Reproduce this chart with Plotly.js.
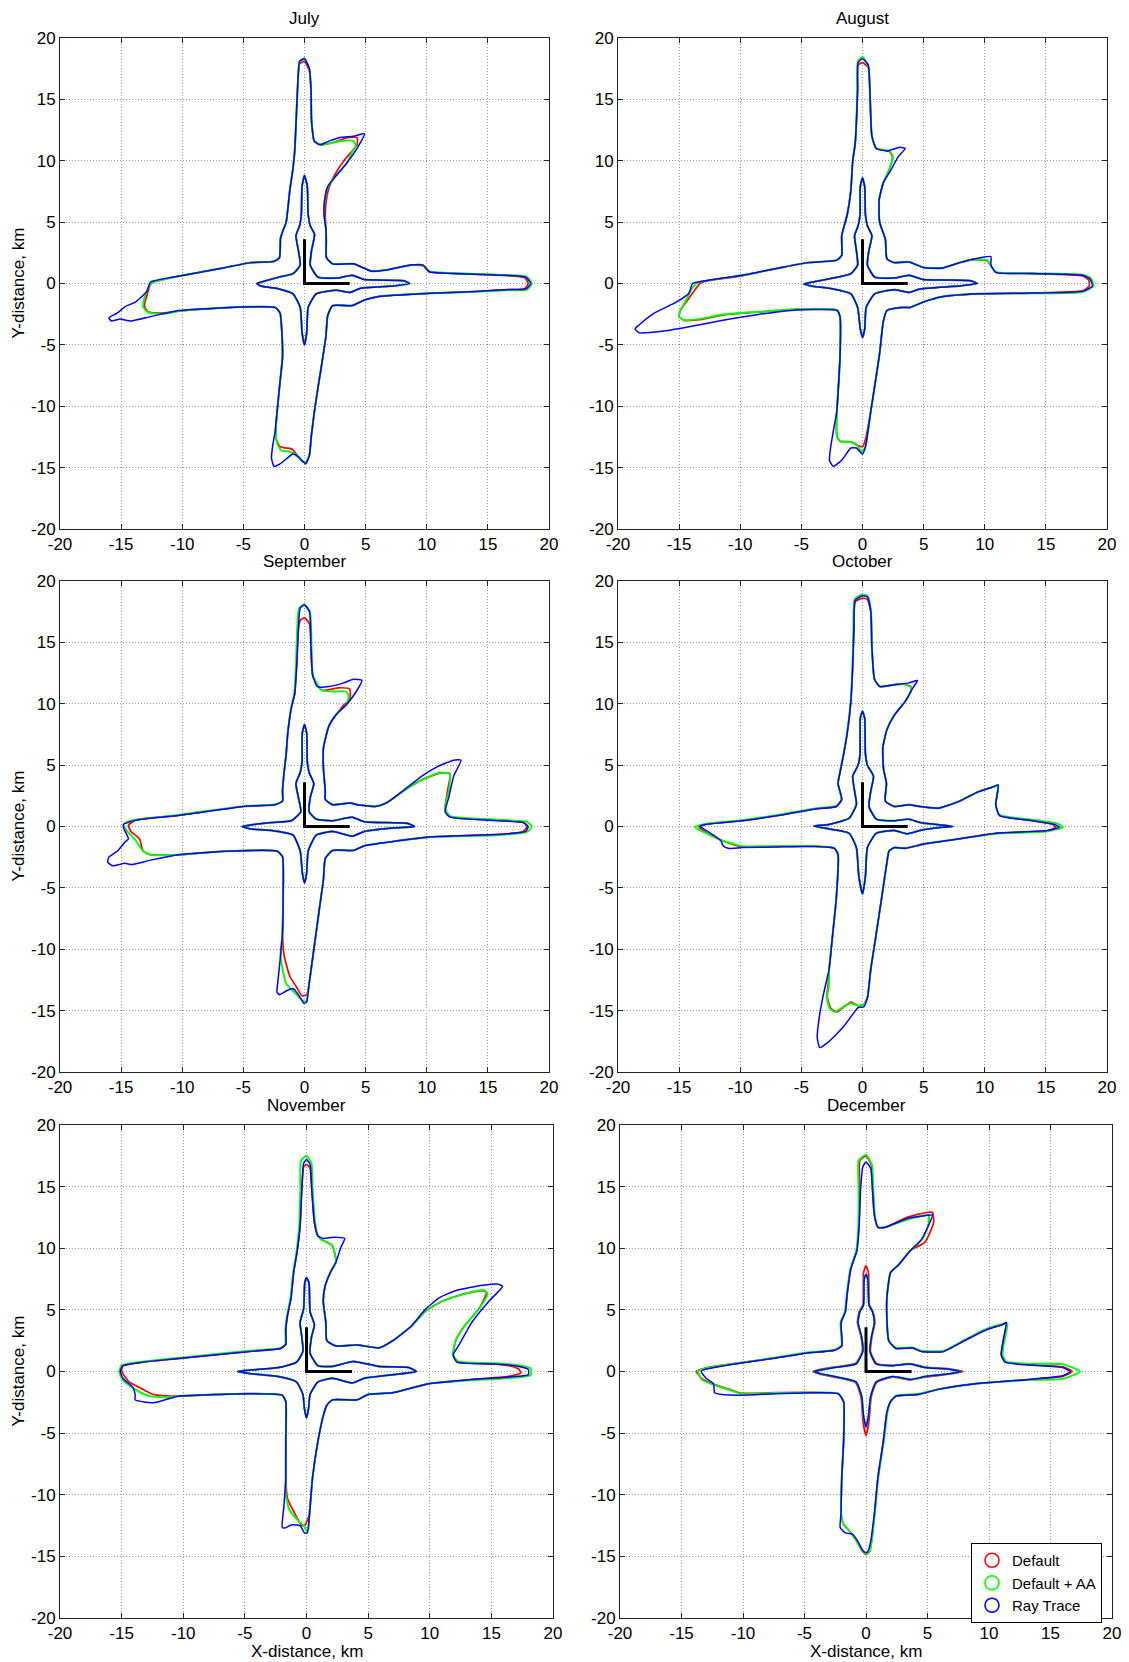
<!DOCTYPE html>
<html><head><meta charset="utf-8">
<script src="https://cdn.plot.ly/plotly-3.0.1.min.js"></script>
<style>html,body{margin:0;padding:0;background:#fff}#chart{width:1129px;height:1662px}</style>
</head><body><div id="chart"></div>
<script>
const months = ['July','August','September','October','November','December'];
const seriesNames = ['Default','Default + AA','Ray Trace'];
const seriesColors = ['#ff0000','#00ff00','#0000ff'];
const tickVals = [-20,-15,-10,-5,0,5,10,15,20];
const tickText = ['-20','-15','-10','-5','0','5','10','15','20'];
const siteX = [0,0,3.7];
const siteY = [3.6,0,0];

// ---------- July ----------
const julRT = [[0,18.3],[-0.4,18.1],[-0.5,17.2],[-0.64,14.3],[-0.8,10.8],[-0.94,9.4],[-1.2,7.6],[-1.5,5.0],[-1.8,4.2],[-1.96,3.7],[-2.05,2.1],[-2.5,1.8],[-4.4,1.7],[-7,1.2],[-10.3,0.6],[-12.6,0.1],[-12.9,-0.64],[-13.8,-1.5],[-14.7,-1.9],[-15.3,-2.4],[-16,-2.8],[-15.8,-3.05],[-15.1,-2.9],[-14.2,-3.05],[-12.6,-2.7],[-10.3,-2.2],[-7,-2.0],[-4.4,-1.9],[-2.4,-1.95],[-2.0,-2.4],[-1.85,-4],[-1.8,-6],[-2.0,-8],[-2.2,-10],[-2.4,-12],[-2.6,-13.2],[-2.7,-14.2],[-2.5,-14.9],[-2.0,-14.7],[-1.5,-14.3],[-0.95,-13.9],[-0.5,-14.1],[0.1,-14.7],[0.4,-14],[0.55,-12.5],[0.8,-10.5],[1.1,-8.5],[1.5,-6],[1.75,-4.3],[1.9,-2.6],[2.3,-1.8],[3.9,-1.8],[4.9,-1.35],[6.1,-1.05],[10.2,-0.8],[14,-0.65],[16.5,-0.5],[18.1,-0.45],[18.5,0],[18.1,0.52],[16,0.68],[12,0.82],[10.2,0.96],[9.7,1.5],[8.7,1.5],[6.7,1.1],[5.5,1.0],[4.0,1.6],[2.3,1.6],[1.8,2.1],[1.78,3.5],[1.75,4.45],[1.6,5.6],[1.65,6.8],[1.9,7.9],[2.6,8.8],[3.45,9.8],[4.3,11.0],[4.9,12.2],[4.0,12.0],[2.9,11.9],[2.0,11.6],[1.26,11.3],[0.8,11.6],[0.58,13.2],[0.53,15.8],[0.4,17.5],[0,18.3]];
const julAA = [[0,18.35],[-0.4,18.1],[-0.5,17.2],[-0.64,14.3],[-0.8,10.8],[-0.94,9.4],[-1.2,7.6],[-1.5,5.0],[-1.8,4.2],[-1.96,3.7],[-2.05,2.1],[-2.5,1.8],[-4.4,1.7],[-7,1.2],[-10.3,0.6],[-12.5,0.05],[-12.8,-0.4],[-13.1,-1.2],[-13.2,-1.9],[-12.8,-2.35],[-12,-2.45],[-11,-2.4],[-10.3,-2.25],[-7,-2.0],[-4.4,-1.9],[-2.4,-1.95],[-2.0,-2.4],[-1.85,-4],[-1.8,-6],[-2.0,-8],[-2.2,-10],[-2.35,-12],[-2.25,-13.0],[-1.9,-13.6],[-1.2,-13.7],[-0.8,-13.9],[-0.3,-14.4],[0.1,-14.6],[0.4,-14],[0.55,-12.5],[0.8,-10.5],[1.1,-8.5],[1.5,-6],[1.75,-4.3],[1.9,-2.6],[2.3,-1.8],[3.9,-1.8],[4.9,-1.35],[6.1,-1.05],[10.2,-0.8],[14,-0.67],[16.5,-0.55],[18.2,-0.5],[18.6,0],[18.2,0.55],[16,0.72],[12,0.85],[10.2,0.98],[9.7,1.5],[8.7,1.5],[6.7,1.1],[5.5,1.0],[4.0,1.6],[2.3,1.6],[1.8,2.1],[1.78,3.5],[1.75,4.45],[1.6,5.6],[1.65,6.8],[1.9,7.9],[2.6,8.8],[3.45,9.8],[3.9,10.7],[4.2,11.2],[4.0,11.6],[3.3,11.65],[2.4,11.5],[1.4,11.3],[0.8,11.6],[0.58,13.2],[0.53,15.8],[0.4,17.5],[0,18.35]];
const julDF = [[0,18.1],[-0.4,17.9],[-0.5,17.2],[-0.64,14.3],[-0.8,10.8],[-0.94,9.4],[-1.2,7.6],[-1.5,5.0],[-1.8,4.2],[-1.96,3.7],[-2.05,2.1],[-2.5,1.8],[-4.4,1.7],[-7,1.2],[-10.3,0.6],[-12.5,0.05],[-12.7,-0.3],[-12.9,-1.0],[-13.1,-1.8],[-12.8,-2.3],[-12,-2.4],[-11,-2.35],[-10.3,-2.25],[-7,-2.0],[-4.4,-1.9],[-2.4,-1.95],[-2.0,-2.4],[-1.85,-4],[-1.8,-6],[-2.0,-8],[-2.2,-10],[-2.35,-12],[-2.3,-12.7],[-2.0,-13.3],[-1.5,-13.4],[-1.0,-13.5],[-0.6,-14.0],[-0.2,-14.5],[0.1,-14.55],[0.4,-14],[0.55,-12.5],[0.8,-10.5],[1.1,-8.5],[1.5,-6],[1.75,-4.3],[1.9,-2.6],[2.3,-1.8],[3.9,-1.8],[4.9,-1.35],[6.1,-1.05],[10.2,-0.8],[14,-0.65],[16.5,-0.5],[18.0,-0.42],[18.3,0],[18.0,0.48],[16,0.68],[12,0.82],[10.2,0.96],[9.7,1.45],[8.7,1.5],[6.7,1.1],[5.5,1.0],[4.0,1.6],[2.3,1.6],[1.8,2.1],[1.78,3.5],[1.75,4.45],[1.7,5.5],[1.75,6.5],[2.0,7.8],[2.5,8.9],[3.3,10.1],[3.9,10.8],[4.3,11.3],[4.3,11.9],[3.6,11.9],[2.4,11.5],[1.4,11.3],[0.8,11.6],[0.58,13.2],[0.53,15.8],[0.4,17.3],[0,18.1]];
const julIn = [[0,8.8],[-0.2,7.9],[-0.26,5.6],[-0.4,4.7],[-0.7,3.9],[-0.5,2.7],[-0.35,1.5],[-0.94,0.8],[-2.1,0.52],[-3.6,0.1],[-3.9,0],[-3.6,-0.2],[-2.1,-0.44],[-0.94,-0.84],[-0.35,-1.95],[-0.2,-4.0],[0,-5.0],[0.18,-4.0],[0.3,-1.95],[0.96,-0.84],[2.6,-0.55],[3.7,-0.73],[4.6,-0.38],[7.25,-0.2],[8.6,0],[8.1,0.23],[4.9,0.32],[3.9,0.67],[2.7,0.44],[1.1,0.52],[0.47,1.5],[0.58,2.7],[0.82,4.0],[0.47,4.7],[0.3,5.6],[0.23,7.9],[0,8.8]];

// ---------- August ----------
const augRT = [[0,18.3],[-0.36,18.0],[-0.4,15.8],[-0.6,11.4],[-0.8,10],[-0.95,7.6],[-1.25,5.6],[-1.7,3.9],[-1.7,2.3],[-2.1,1.9],[-4.5,1.7],[-6.9,1.25],[-9.85,0.67],[-12.8,0.23],[-13.9,0],[-14.2,-0.8],[-15.2,-1.5],[-17,-2.4],[-18.3,-3.4],[-18.6,-3.7],[-18.3,-4.0],[-16.4,-3.9],[-14.3,-3.55],[-11.3,-2.97],[-8.4,-2.5],[-5.4,-2.15],[-2.1,-2.2],[-1.84,-2.7],[-1.84,-6.0],[-2.0,-8.9],[-2.1,-10.4],[-2.4,-12.1],[-2.6,-13.3],[-2.7,-14.4],[-2.4,-14.9],[-1.7,-14.4],[-0.95,-13.4],[-0.5,-13.4],[0,-13.9],[0.24,-13.3],[0.68,-10.4],[1.13,-7.5],[1.4,-5.7],[1.7,-3.1],[2.0,-2.2],[3.2,-1.95],[3.9,-1.95],[5.0,-1.5],[6.5,-1.08],[9.4,-0.84],[13.9,-0.78],[18,-0.64],[18.8,-0.2],[18.6,0.38],[18,0.67],[13.9,0.81],[10.9,0.9],[10.5,1.54],[10.5,2.2],[9.1,2.0],[7.95,1.7],[6.5,1.25],[5.0,1.3],[3.8,1.75],[2.6,1.7],[2.0,2.0],[1.87,3.6],[1.4,5.0],[1.36,6.8],[1.7,8.2],[2.3,9.2],[2.9,10.3],[3.5,11.0],[3.05,11.1],[2.0,10.8],[1.13,11.0],[0.77,12],[0.6,15.8],[0.47,17.8],[0,18.3]];
const augAA = [[0,18.45],[-0.38,18.1],[-0.42,15.8],[-0.6,11.4],[-0.8,10],[-0.95,7.6],[-1.25,5.6],[-1.7,3.9],[-1.7,2.3],[-2.1,1.9],[-4.5,1.7],[-6.9,1.25],[-9.85,0.67],[-12.8,0.23],[-13.6,0.0],[-14.0,-0.5],[-14.3,-1.1],[-14.9,-2.2],[-15.0,-2.7],[-14.6,-2.97],[-13.4,-2.9],[-11.3,-2.5],[-8.4,-2.3],[-5.4,-2.1],[-2.1,-2.15],[-1.84,-2.7],[-1.84,-6.0],[-2.0,-8.9],[-2.1,-10.4],[-2.1,-12.4],[-1.84,-12.85],[-0.95,-12.9],[-0.5,-13.1],[-0.06,-13.7],[0.24,-13.3],[0.68,-10.4],[1.13,-7.5],[1.4,-5.7],[1.7,-3.1],[2.0,-2.2],[3.2,-1.95],[3.9,-1.95],[5.0,-1.5],[6.5,-1.08],[9.4,-0.84],[13.9,-0.8],[18,-0.7],[18.9,-0.2],[18.7,0.4],[18,0.72],[13.9,0.84],[10.9,0.95],[10.4,1.6],[10.2,1.9],[9.1,1.95],[7.95,1.7],[6.5,1.25],[5.0,1.3],[3.8,1.75],[2.6,1.7],[2.0,2.0],[1.87,3.6],[1.4,5.0],[1.36,6.8],[1.7,8.2],[2.2,9.3],[2.5,10.3],[2.2,10.8],[1.13,11.0],[0.77,12],[0.6,15.8],[0.47,17.8],[0,18.45]];
const augDF = [[0,18.0],[-0.36,17.8],[-0.4,15.8],[-0.6,11.4],[-0.8,10],[-0.95,7.6],[-1.25,5.6],[-1.7,3.9],[-1.7,2.3],[-2.1,1.9],[-4.5,1.7],[-6.9,1.25],[-9.85,0.62],[-12.8,0.2],[-13.3,0.0],[-13.7,-0.5],[-14.2,-1.2],[-14.9,-2.2],[-15.0,-2.7],[-14.6,-3.0],[-13.4,-2.95],[-11.3,-2.55],[-8.4,-2.32],[-5.4,-2.1],[-2.1,-2.15],[-1.84,-2.7],[-1.84,-6.0],[-2.0,-8.9],[-2.1,-10.4],[-2.1,-12.4],[-1.84,-12.85],[-0.95,-12.9],[-0.36,-13.2],[0,-13.3],[0.24,-12.7],[0.68,-10.4],[1.13,-7.5],[1.4,-5.7],[1.7,-3.1],[2.0,-2.2],[3.2,-1.95],[3.9,-1.95],[5.0,-1.5],[6.5,-1.08],[9.4,-0.84],[13.9,-0.78],[18,-0.6],[18.55,-0.2],[18.5,0.3],[18,0.62],[13.9,0.81],[10.9,0.92],[10.4,1.6],[10.2,1.85],[9.1,1.95],[7.95,1.7],[6.5,1.25],[5.0,1.3],[3.8,1.75],[2.6,1.7],[2.0,2.0],[1.87,3.6],[1.4,5.0],[1.36,6.8],[1.7,8.2],[2.2,9.3],[2.45,10.3],[2.2,10.75],[1.13,11.0],[0.77,12],[0.6,15.8],[0.47,17.6],[0,18.0]];
const augIn = [[0,8.6],[-0.18,7.9],[-0.2,5.6],[-0.36,4.7],[-0.65,3.9],[-0.5,2.7],[-0.4,1.5],[-0.95,0.8],[-2.4,0.44],[-4.2,0.1],[-4.8,-0.05],[-4.2,-0.2],[-2.4,-0.44],[-0.95,-0.84],[-0.4,-1.95],[-0.18,-3.7],[0,-4.4],[0.18,-3.7],[0.3,-1.95],[1,-0.84],[2.6,-0.5],[3.8,-0.73],[4.7,-0.44],[7.95,-0.2],[9.4,0],[8.8,0.23],[5.0,0.32],[3.8,0.67],[2.6,0.44],[1.0,0.52],[0.4,1.5],[0.53,2.7],[0.77,3.9],[0.4,4.7],[0.24,5.6],[0.18,7.9],[0,8.6]];

// ---------- September ----------
const sepRT = [[0,18.05],[-0.35,17.8],[-0.5,16.1],[-0.64,13.1],[-0.8,10.8],[-1.08,9.65],[-1.37,7.6],[-1.5,5.9],[-1.67,4.4],[-1.8,2.9],[-1.8,2.07],[-2.4,1.78],[-5.0,1.63],[-10.3,0.9],[-13.8,0.52],[-14.8,0.17],[-14.8,-0.1],[-14.4,-1.0],[-14.7,-1.28],[-15.3,-2.0],[-16,-2.5],[-16.1,-2.9],[-15.7,-3.2],[-14.7,-3.0],[-14.1,-3.1],[-12.6,-2.74],[-10.3,-2.3],[-7.4,-2.07],[-4.4,-1.95],[-2.25,-2.0],[-1.8,-2.45],[-1.75,-5.8],[-1.8,-8.7],[-1.96,-10.5],[-2.16,-12.5],[-2.25,-13.5],[-2.05,-13.7],[-1.5,-13.4],[-0.94,-13.2],[-0.5,-13.7],[-0.06,-14.4],[0.18,-14.3],[0.38,-12.8],[0.82,-9.6],[1.26,-6.4],[1.55,-4.3],[1.7,-2.6],[2.3,-1.95],[4.0,-1.95],[4.9,-1.57],[7.25,-1.22],[10.2,-0.85],[16,-0.64],[18.1,-0.4],[18.3,0],[17.9,0.32],[16,0.47],[11.9,0.76],[11.5,1.2],[11.8,2.36],[12.2,4.1],[12.8,5.4],[12.2,5.4],[10.8,4.84],[9.6,4.1],[8.1,2.94],[6.7,1.92],[5.8,1.63],[4.3,1.78],[3.74,1.92],[2.3,1.78],[1.7,2.2],[1.7,2.9],[1.55,4.7],[1.55,6.4],[2.0,8.2],[2.57,9.1],[3.45,9.95],[4.3,11.1],[4.7,11.9],[4.0,12.0],[3.2,11.7],[2.0,11.4],[1.05,11.4],[0.67,12.3],[0.53,14.6],[0.41,17.5],[0,18.05]];
const sepAA = [[0,18.1],[-0.45,17.8],[-0.6,16.1],[-0.7,13.1],[-0.85,10.8],[-1.1,9.65],[-1.37,7.6],[-1.5,5.9],[-1.67,4.4],[-1.8,2.9],[-1.8,2.07],[-2.4,1.8],[-5.0,1.66],[-10.3,0.95],[-13.8,0.55],[-14.8,0.2],[-14.6,-0.26],[-13.8,-1.14],[-13.2,-2.0],[-12.6,-2.3],[-10.3,-2.3],[-7.4,-2.07],[-4.4,-1.95],[-2.25,-2.0],[-1.8,-2.45],[-1.75,-5.8],[-1.8,-8.7],[-1.96,-10.5],[-1.8,-11.6],[-1.5,-12.8],[-0.94,-13.4],[-0.35,-14.0],[0.1,-14.3],[0.38,-12.8],[0.82,-9.6],[1.26,-6.4],[1.55,-4.3],[1.7,-2.6],[2.3,-1.95],[4.0,-1.95],[4.9,-1.57],[7.25,-1.22],[10.2,-0.88],[16,-0.7],[18.2,-0.45],[18.6,0],[18.2,0.38],[16,0.55],[11.9,0.85],[11.5,1.5],[11.8,2.9],[11.9,4.25],[11.1,4.4],[9.6,3.8],[8.1,2.9],[6.7,1.92],[5.8,1.63],[4.3,1.78],[3.74,1.92],[2.3,1.78],[1.7,2.2],[1.7,2.9],[1.55,4.7],[1.55,6.4],[2.0,8.2],[2.57,9.1],[3.45,9.95],[3.6,10.7],[3.4,11.0],[2.5,11.0],[1.4,11.1],[0.7,12.3],[0.58,14.6],[0.45,17.5],[0,18.1]];
const sepDF = [[0,17.0],[-0.35,16.8],[-0.5,16.1],[-0.64,13.1],[-0.8,10.8],[-1.08,9.65],[-1.37,7.6],[-1.5,5.9],[-1.67,4.4],[-1.8,2.9],[-1.8,2.07],[-2.4,1.78],[-5.0,1.63],[-10.3,0.9],[-13.8,0.52],[-14.4,0.1],[-14.2,-0.4],[-13.5,-1.0],[-13.2,-2.0],[-12.6,-2.3],[-10.3,-2.3],[-7.4,-2.07],[-4.4,-1.95],[-2.25,-2.0],[-1.8,-2.45],[-1.75,-5.8],[-1.8,-8.7],[-1.67,-10.5],[-1.2,-12.2],[-0.64,-13.1],[-0.2,-13.8],[0.18,-13.7],[0.38,-12.8],[0.82,-9.6],[1.26,-6.4],[1.55,-4.3],[1.7,-2.6],[2.3,-1.95],[4.0,-1.95],[4.9,-1.57],[7.25,-1.22],[10.2,-0.85],[16,-0.64],[17.9,-0.4],[18.2,0],[17.9,0.32],[16,0.5],[11.9,0.8],[11.5,1.4],[11.7,2.9],[11.9,4.3],[11.1,4.35],[9.6,3.8],[8.1,2.9],[6.7,1.92],[5.8,1.63],[4.3,1.78],[3.74,1.92],[2.3,1.78],[1.7,2.2],[1.7,2.9],[1.55,4.7],[1.55,6.4],[2.0,8.2],[2.6,9.1],[3.2,9.9],[3.7,10.3],[3.7,11.2],[2.8,11.3],[1.4,11.1],[0.67,12.3],[0.53,14.6],[0.41,16.5],[0,17.0]];
const sepIn = [[0,8.3],[-0.18,7.6],[-0.2,5.3],[-0.35,4.4],[-0.7,3.5],[-0.5,2.36],[-0.3,1.2],[-1.08,0.47],[-2.7,0.32],[-4.4,0.12],[-5.1,0],[-4.4,-0.2],[-2.7,-0.32],[-0.94,-0.7],[-0.35,-2.0],[-0.18,-3.76],[0,-4.6],[0.18,-3.76],[0.3,-2.0],[0.96,-0.7],[2.3,-0.4],[3.9,-0.79],[4.9,-0.4],[7.25,-0.12],[9.0,0],[8.4,0.26],[4.9,0.38],[3.9,0.76],[2.3,0.47],[0.96,0.6],[0.38,1.2],[0.47,2.36],[0.76,3.5],[0.38,4.4],[0.23,5.3],[0.18,7.6],[0,8.3]];

// ---------- October ----------
const octRT = [[0,18.8],[-0.6,18.4],[-0.7,16.1],[-0.8,13.1],[-0.95,10.2],[-1.25,7.6],[-1.54,5.9],[-1.84,4.4],[-2.0,3.5],[-1.7,2.2],[-2.14,1.63],[-3.9,1.43],[-6.9,0.9],[-9.85,0.47],[-12.8,0.17],[-13.3,0.03],[-12.8,-0.32],[-11.6,-1.14],[-11.4,-1.57],[-11.0,-1.78],[-9.85,-1.72],[-6.9,-1.66],[-3.9,-1.63],[-2.3,-1.78],[-2.0,-2.3],[-2.14,-5.8],[-2.43,-8.7],[-2.73,-11.6],[-3.2,-13.7],[-3.56,-15.7],[-3.7,-17.2],[-3.5,-18.0],[-2.73,-17.5],[-1.54,-16.3],[-0.65,-15.1],[-0.36,-14.75],[0.1,-14.7],[0.4,-13.96],[0.68,-11.6],[1.13,-8.7],[1.57,-5.8],[2.0,-2.9],[2.17,-2.0],[2.6,-1.72],[3.5,-1.78],[5.0,-1.43],[7.95,-1.0],[10.9,-0.55],[15.1,-0.32],[16.1,-0.06],[15.7,0.17],[13.9,0.47],[11.2,0.9],[10.9,1.78],[11.1,3.4],[10.6,3.2],[9.4,2.8],[7.95,2.07],[6.2,1.49],[4.7,1.63],[3.8,1.78],[2.6,1.63],[1.87,2.07],[1.96,3.5],[1.72,4.7],[1.66,6.4],[2.0,7.9],[2.6,9.07],[3.5,10.2],[4.1,11.25],[4.5,11.9],[3.8,11.7],[2.6,11.55],[1.42,11.4],[0.98,12],[0.77,14.6],[0.68,17.5],[0.4,18.7],[0,18.8]];
const octAA = [[0,18.9],[-0.65,18.5],[-0.75,16.1],[-0.82,13.1],[-0.97,10.2],[-1.27,7.6],[-1.56,5.9],[-1.86,4.4],[-2.02,3.5],[-1.72,2.2],[-2.14,1.68],[-3.9,1.48],[-6.9,0.95],[-9.85,0.52],[-12.8,0.22],[-13.7,-0.06],[-12.8,-0.55],[-11.5,-1.14],[-10.5,-1.43],[-9.85,-1.6],[-6.9,-1.6],[-3.9,-1.6],[-2.3,-1.75],[-2.0,-2.3],[-2.14,-5.8],[-2.43,-8.7],[-2.73,-11.6],[-2.73,-12.8],[-2.9,-14.0],[-2.7,-14.8],[-2.3,-15.1],[-1.25,-14.5],[-0.95,-14.4],[-0.36,-14.6],[0.1,-14.5],[0.4,-13.96],[0.68,-11.6],[1.13,-8.7],[1.57,-5.8],[2.0,-2.9],[2.17,-2.0],[2.6,-1.72],[3.5,-1.78],[5.0,-1.43],[7.95,-1.0],[10.9,-0.6],[15.1,-0.4],[16.4,-0.06],[15.9,0.25],[13.9,0.55],[11.2,0.95],[10.9,1.78],[11.1,3.3],[10.6,3.2],[9.4,2.8],[7.95,2.07],[6.2,1.49],[4.7,1.63],[3.8,1.78],[2.6,1.63],[1.87,2.07],[1.96,3.5],[1.72,4.7],[1.66,6.4],[2.0,7.9],[2.6,9.07],[3.5,10.2],[3.95,11.0],[3.95,11.4],[3.3,11.6],[2.6,11.55],[1.42,11.4],[0.98,12],[0.77,14.6],[0.7,17.5],[0.45,18.75],[0,18.9]];
const octDF = [[0,18.6],[-0.6,18.3],[-0.7,16.1],[-0.8,13.1],[-0.95,10.2],[-1.25,7.6],[-1.54,5.9],[-1.84,4.4],[-2.0,3.5],[-1.7,2.2],[-2.14,1.63],[-3.9,1.43],[-6.9,0.9],[-9.85,0.47],[-12.8,0.2],[-13.4,0.0],[-12.8,-0.5],[-11.6,-1.1],[-10.5,-1.5],[-9.85,-1.65],[-6.9,-1.62],[-3.9,-1.62],[-2.3,-1.78],[-2.0,-2.3],[-2.14,-5.8],[-2.43,-8.7],[-2.73,-11.6],[-2.8,-12.8],[-2.9,-13.8],[-2.6,-14.8],[-2.1,-15.1],[-0.95,-14.3],[-0.36,-14.6],[0.1,-14.5],[0.4,-13.96],[0.68,-11.6],[1.13,-8.7],[1.57,-5.8],[2.0,-2.9],[2.17,-2.0],[2.6,-1.72],[3.5,-1.78],[5.0,-1.43],[7.95,-1.0],[10.9,-0.55],[15.1,-0.35],[15.8,-0.06],[15.5,0.2],[13.9,0.47],[11.2,0.9],[10.9,1.78],[11.1,3.3],[10.6,3.2],[9.4,2.8],[7.95,2.07],[6.2,1.49],[4.7,1.63],[3.8,1.78],[2.6,1.63],[1.87,2.07],[1.96,3.5],[1.72,4.7],[1.66,6.4],[2.0,7.9],[2.6,9.07],[3.5,10.2],[3.95,11.0],[3.95,11.4],[3.3,11.6],[2.6,11.55],[1.42,11.4],[0.98,12],[0.77,14.6],[0.68,17.5],[0.4,18.5],[0,18.6]];
const octIn = [[0,9.4],[-0.18,8.8],[-0.2,5.9],[-0.36,5.0],[-0.8,4.1],[-0.65,2.9],[-0.5,1.78],[-1.1,0.67],[-2.73,0.17],[-4.0,0.03],[-2.73,-0.2],[-1.1,-0.55],[-0.5,-1.72],[-0.3,-4.05],[0,-5.5],[0.24,-4.05],[0.4,-1.72],[1.13,-0.55],[2.6,-0.32],[3.65,-0.6],[4.7,-0.32],[6.5,-0.06],[7.4,0],[6.5,0.12],[4.7,0.32],[3.8,0.6],[2.6,0.47],[1.13,0.6],[0.53,1.63],[0.68,2.9],[0.9,4.1],[0.4,5.0],[0.24,5.9],[0.18,8.8],[0,9.4]];

// ---------- November ----------
const novRT = [[0,17.2],[-0.23,16.9],[-0.38,14.75],[-0.52,11.8],[-0.75,9.8],[-1.04,8.05],[-1.25,6.0],[-1.54,4.55],[-1.68,3.4],[-1.68,2.2],[-2.1,1.87],[-4.6,1.63],[-7.5,1.34],[-10.4,1.05],[-13.3,0.76],[-14.9,0.47],[-15.1,0.03],[-14.9,-0.55],[-14.1,-1.28],[-13.9,-1.87],[-13.9,-2.3],[-13.3,-2.45],[-12.4,-2.54],[-10.4,-2.0],[-7.5,-1.87],[-4.6,-1.8],[-1.97,-1.92],[-1.68,-2.45],[-1.68,-5.65],[-1.68,-8.6],[-1.83,-10.9],[-1.97,-12.65],[-1.74,-12.7],[-1.25,-12.45],[-0.52,-12.5],[-0.17,-13.1],[0.06,-13.1],[0.23,-11.8],[0.49,-8.6],[0.93,-5.65],[1.36,-3.6],[1.65,-2.74],[2.1,-2.3],[4.1,-2.3],[5.0,-1.87],[7.0,-1.72],[9.9,-0.99],[12.8,-0.7],[16.9,-0.41],[18.0,-0.26],[18.0,0.17],[16.9,0.47],[15.1,0.61],[12.2,0.76],[11.9,1.34],[12.4,2.2],[13.4,3.97],[14.8,5.7],[15.9,6.9],[15.5,7.1],[14.3,7.0],[12.2,6.6],[10.8,6.0],[9.6,5.0],[8.5,3.67],[7.0,2.5],[5.9,1.92],[4.1,2.16],[2.4,2.07],[1.65,2.5],[1.57,3.97],[1.36,5.7],[1.5,6.9],[1.94,8.05],[2.4,8.9],[2.8,10.1],[3.1,10.8],[2.2,10.9],[1.36,10.8],[0.93,11.0],[0.64,12.1],[0.43,14.75],[0.29,16.8],[0,17.2]];
const novAA = [[0,17.5],[-0.45,17.1],[-0.5,14.75],[-0.6,11.8],[-0.8,9.8],[-1.08,8.05],[-1.3,6.0],[-1.58,4.55],[-1.72,3.4],[-1.72,2.2],[-2.1,1.92],[-4.6,1.68],[-7.5,1.4],[-10.4,1.1],[-13.3,0.8],[-15.0,0.5],[-15.2,0.0],[-14.9,-0.7],[-13.7,-1.57],[-12.7,-2.0],[-11.2,-2.1],[-10.4,-2.0],[-7.5,-1.87],[-4.6,-1.8],[-1.97,-1.92],[-1.68,-2.45],[-1.68,-5.65],[-1.68,-8.6],[-1.68,-10.0],[-1.4,-11.2],[-0.67,-12.1],[-0.23,-12.5],[0,-12.95],[0.15,-12.8],[0.23,-11.8],[0.49,-8.6],[0.93,-5.65],[1.36,-3.6],[1.65,-2.74],[2.1,-2.3],[4.1,-2.3],[5.0,-1.87],[7.0,-1.72],[9.9,-0.99],[12.8,-0.75],[16.9,-0.5],[18.2,-0.3],[18.2,0.25],[16.9,0.55],[15.1,0.68],[12.3,0.82],[11.9,1.34],[12.1,2.5],[12.8,3.67],[14.0,5.1],[14.7,6.3],[14.4,6.6],[12.8,6.3],[11.0,5.7],[9.6,4.84],[8.5,3.67],[7.0,2.5],[5.9,1.92],[4.1,2.16],[2.4,2.07],[1.65,2.5],[1.57,3.97],[1.36,5.7],[1.5,6.9],[1.94,8.05],[2.4,8.9],[2.1,10.2],[1.65,10.5],[1.2,10.7],[0.93,11.0],[0.7,12.1],[0.5,14.75],[0.4,16.9],[0,17.5]];
const novDF = [[0,16.8],[-0.23,16.6],[-0.38,14.75],[-0.52,11.8],[-0.75,9.8],[-1.04,8.05],[-1.25,6.0],[-1.54,4.55],[-1.68,3.4],[-1.68,2.2],[-2.1,1.87],[-4.6,1.63],[-7.5,1.34],[-10.4,1.05],[-13.3,0.76],[-14.9,0.45],[-15.0,0.03],[-14.4,-0.85],[-13.3,-1.43],[-12.4,-1.87],[-10.4,-2.0],[-7.5,-1.87],[-4.6,-1.8],[-1.97,-1.92],[-1.68,-2.45],[-1.68,-5.65],[-1.68,-8.6],[-1.54,-10.3],[-0.96,-11.5],[-0.38,-12.5],[-0.17,-12.5],[0.06,-12.1],[0.23,-11.5],[0.49,-8.6],[0.93,-5.65],[1.36,-3.6],[1.65,-2.74],[2.1,-2.3],[4.1,-2.3],[5.0,-1.87],[7.0,-1.72],[9.9,-0.99],[12.8,-0.7],[16.4,-0.4],[17.4,-0.1],[17.2,0.2],[16.4,0.47],[15.1,0.61],[12.2,0.78],[11.9,1.34],[12.1,2.5],[12.8,3.67],[14.0,5.1],[14.6,6.4],[14.3,6.55],[12.8,6.3],[11.0,5.7],[9.6,4.84],[8.5,3.67],[7.0,2.5],[5.9,1.92],[4.1,2.16],[2.4,2.07],[1.65,2.5],[1.57,3.97],[1.36,5.7],[1.5,6.9],[1.94,8.05],[2.4,8.9],[2.1,10.2],[1.65,10.5],[1.2,10.7],[0.93,11.0],[0.64,12.1],[0.43,14.75],[0.29,16.5],[0,16.8]];
const novIn = [[0,7.6],[-0.14,7.2],[-0.23,5.1],[-0.52,3.97],[-0.38,2.8],[-0.29,1.63],[-0.81,0.76],[-2.26,0.32],[-4.6,0.12],[-5.6,0],[-4.6,-0.17],[-2.26,-0.41],[-0.81,-0.85],[-0.29,-1.87],[-0.17,-3.0],[0,-3.76],[0.17,-3.0],[0.29,-1.87],[0.93,-0.85],[2.1,-0.55],[3.7,-0.93],[4.7,-0.55],[7.0,-0.26],[8.9,0],[8.3,0.32],[5.9,0.41],[3.8,0.82],[2.1,0.41],[0.93,0.47],[0.29,1.49],[0.41,2.8],[0.64,3.8],[0.29,4.84],[0.2,7.2],[0,7.6]];

// ---------- December ----------
const decRT = [[0,17.0],[-0.26,16.6],[-0.44,14.75],[-0.56,11.8],[-0.74,9.8],[-1.24,8.3],[-1.53,6.3],[-1.68,4.84],[-2.03,3.97],[-1.97,2.8],[-1.97,2.07],[-2.56,1.72],[-4.9,1.49],[-7.3,1.1],[-10.2,0.67],[-13.1,0.17],[-13.4,0],[-13.0,-0.55],[-12.4,-1.0],[-12.3,-1.72],[-11.7,-1.87],[-10.2,-1.92],[-7.3,-1.8],[-4.3,-1.72],[-2.26,-1.8],[-1.82,-2.45],[-1.82,-5.65],[-1.97,-8.6],[-2.03,-11.5],[-2.1,-12.65],[-1.68,-13.1],[-1.1,-13.2],[-0.65,-13.8],[-0.2,-14.6],[0.09,-14.7],[0.38,-13.8],[0.68,-11.5],[0.97,-8.6],[1.41,-5.65],[1.7,-3.3],[2.0,-2.45],[2.44,-2.0],[4.2,-1.87],[5.97,-1.43],[8.9,-0.99],[13.3,-0.64],[16,-0.35],[16.6,0],[16,0.32],[13.3,0.52],[11.3,0.76],[11.0,1.34],[11.1,2.2],[11.4,3.97],[11.1,3.8],[9.8,3.4],[8.0,2.5],[6.3,1.63],[4.5,1.63],[3.76,1.92],[2.44,1.87],[1.85,2.5],[1.7,4.26],[1.7,6.0],[2.0,8.05],[2.6,8.6],[3.6,9.8],[4.5,10.7],[5.4,12.7],[4.9,12.65],[3.3,12.4],[1.56,11.7],[0.97,11.7],[0.68,12.7],[0.53,14.75],[0.38,16.5],[0,17.0]];
const decAA = [[0,17.6],[-0.6,17.1],[-0.6,14.75],[-0.62,11.8],[-0.8,9.8],[-1.28,8.3],[-1.56,6.3],[-1.72,4.84],[-2.07,3.97],[-2.0,2.8],[-2.0,2.1],[-2.56,1.76],[-4.9,1.53],[-7.3,1.15],[-10.2,0.7],[-13.1,0.25],[-13.7,0],[-13.3,-0.7],[-12.6,-1.0],[-11.1,-1.5],[-10.2,-1.8],[-7.3,-1.75],[-4.3,-1.7],[-2.26,-1.78],[-1.82,-2.45],[-1.82,-5.65],[-1.97,-8.6],[-2.03,-11.5],[-1.82,-12.4],[-1.38,-12.9],[-0.8,-13.7],[-0.35,-14.5],[0,-14.8],[0.3,-14.6],[0.45,-13.8],[0.72,-11.5],[1.0,-8.6],[1.45,-5.65],[1.75,-3.3],[2.0,-2.4],[2.44,-1.95],[4.2,-1.83],[5.97,-1.43],[8.9,-0.99],[13.3,-0.7],[16,-0.6],[17.4,0],[16,0.6],[13.3,0.62],[11.4,0.8],[11.1,1.34],[11.2,2.2],[11.5,3.9],[11.1,3.85],[9.8,3.45],[8.0,2.55],[6.3,1.68],[4.5,1.68],[3.76,1.95],[2.44,1.92],[1.85,2.5],[1.7,4.26],[1.7,6.0],[2.0,8.05],[2.6,8.6],[3.6,9.8],[4.6,10.75],[5.1,12.0],[5.1,12.7],[4.9,12.7],[3.3,12.3],[1.56,11.7],[0.97,11.7],[0.72,12.7],[0.6,14.75],[0.5,16.7],[0,17.6]];
const decDF = [[0,17.5],[-0.5,17.1],[-0.5,14.75],[-0.58,11.8],[-0.76,9.8],[-1.24,8.3],[-1.53,6.3],[-1.68,4.84],[-2.03,3.97],[-1.97,2.8],[-1.97,2.07],[-2.56,1.72],[-4.9,1.49],[-7.3,1.1],[-10.2,0.72],[-13.1,0.28],[-13.8,0],[-13.3,-0.6],[-12.6,-0.95],[-11.1,-1.45],[-10.2,-1.75],[-7.3,-1.72],[-4.3,-1.7],[-2.26,-1.8],[-1.82,-2.45],[-1.82,-5.65],[-1.97,-8.6],[-2.03,-11.5],[-1.82,-12.4],[-1.38,-12.9],[-0.8,-13.7],[-0.35,-14.5],[0,-14.85],[0.3,-14.6],[0.45,-13.8],[0.7,-11.5],[0.97,-8.6],[1.41,-5.65],[1.7,-3.3],[2.0,-2.45],[2.44,-2.0],[4.2,-1.87],[5.97,-1.43],[8.9,-0.99],[13.3,-0.64],[16,-0.4],[16.75,0],[16,0.38],[13.3,0.55],[11.3,0.78],[11.0,1.34],[11.1,2.2],[11.4,3.97],[11.1,3.8],[9.8,3.4],[8.0,2.5],[6.3,1.63],[4.5,1.63],[3.76,1.92],[2.44,1.87],[1.85,2.5],[1.7,4.26],[1.7,6.0],[2.0,8.05],[2.6,8.6],[3.6,9.8],[4.8,10.5],[5.5,12.1],[5.4,12.9],[4.9,12.9],[3.3,12.5],[1.56,11.7],[0.97,11.7],[0.68,12.7],[0.53,14.75],[0.45,16.7],[0,17.5]];
const decIn = [[0,7.9],[-0.15,7.46],[-0.2,5.4],[-0.5,4.84],[-0.65,3.97],[-0.35,2.8],[-0.26,1.63],[-0.8,0.61],[-2.56,0.32],[-3.7,0.12],[-4.2,0],[-3.7,-0.17],[-2.56,-0.41],[-0.8,-0.85],[-0.35,-2.0],[-0.2,-3.6],[0,-4.5],[0.2,-3.6],[0.38,-2.0],[0.82,-0.85],[2.15,-0.41],[3.6,-0.64],[4.8,-0.41],[6.85,-0.17],[7.7,0],[6.85,0.17],[4.8,0.32],[3.6,0.61],[2.15,0.47],[0.82,0.61],[0.32,1.63],[0.44,2.8],[0.68,3.97],[0.53,4.84],[0.24,5.4],[0.15,7.46],[0,7.9]];
const decInDF = [[0,8.6],[-0.2,8.0],[-0.25,5.4],[-0.55,4.84],[-0.7,3.97],[-0.4,2.8],[-0.3,1.63],[-0.85,0.65],[-2.6,0.36],[-3.8,0.16],[-4.3,0],[-3.8,-0.2],[-2.6,-0.45],[-0.85,-0.9],[-0.4,-2.1],[-0.25,-4.0],[0,-5.2],[0.25,-4.0],[0.42,-2.1],[0.86,-0.9],[2.15,-0.45],[3.6,-0.68],[4.8,-0.45],[6.9,-0.2],[7.9,0],[6.9,0.2],[4.8,0.36],[3.6,0.65],[2.15,0.5],[0.86,0.65],[0.36,1.63],[0.48,2.8],[0.72,3.97],[0.57,4.84],[0.28,5.4],[0.2,8.0],[0,8.6]];

const panels = [
  {df: julDF, aa: julAA, rt: julRT, inDF: julIn, inAA: julIn, inRT: julIn},
  {df: augDF, aa: augAA, rt: augRT, inDF: augIn, inAA: augIn, inRT: augIn},
  {df: sepDF, aa: sepAA, rt: sepRT, inDF: sepIn, inAA: sepIn, inRT: sepIn},
  {df: octDF, aa: octAA, rt: octRT, inDF: octIn, inAA: octIn, inRT: octIn},
  {df: novDF, aa: novAA, rt: novRT, inDF: novIn, inAA: novIn, inRT: novIn},
  {df: decDF, aa: decAA, rt: decRT, inDF: decInDF, inAA: decIn, inRT: decIn}
];

// ---------- layout geometry (pixels) ----------
const W = 1129, H = 1662;
const boxes = [
  {x0: 60, x1: 549, y0: 38, y1: 529},
  {x0: 618, x1: 1107, y0: 38, y1: 529},
  {x0: 60, x1: 549, y0: 581, y1: 1072},
  {x0: 618, x1: 1107, y0: 581, y1: 1072},
  {x0: 60, x1: 553, y0: 1125, y1: 1618},
  {x0: 620, x1: 1112, y0: 1125, y1: 1618}
];
const FONT = 'Liberation Sans, Arial, Helvetica, sans-serif';
const px = v => v / W;
const py = v => 1 - v / H;

const traces = [];
const widths = [1.7, 1.9, 1.5];
panels.forEach((p, i) => {
  const s = i === 0 ? '' : String(i + 1);
  const xa = 'x' + s, ya = 'y' + s;
  const sets = [[p.df, p.inDF], [p.aa, p.inAA], [p.rt, p.inRT]];
  sets.forEach((pair, k) => {
    pair.forEach(curve => {
      traces.push({
        type: 'scatter', mode: 'lines', xaxis: xa, yaxis: ya,
        x: curve.map(q => q[0]), y: curve.map(q => q[1]),
        line: {color: seriesColors[k], width: widths[k], shape: 'spline', smoothing: 0.5},
        name: seriesNames[k], showlegend: false, hoverinfo: 'skip'
      });
    });
  });
  traces.push({
    type: 'scatter', mode: 'lines', xaxis: xa, yaxis: ya,
    x: siteX, y: siteY, line: {color: '#000', width: 3},
    showlegend: false, hoverinfo: 'skip'
  });
});
// legend entries (contour-style icons)
seriesNames.forEach((n, k) => {
  traces.push({
    type: 'scatter', mode: 'markers', xaxis: 'x6', yaxis: 'y6',
    x: [null], y: [null], name: n, showlegend: true,
    marker: {symbol: 'circle-open', size: 14, color: seriesColors[k], line: {width: 1.6, color: seriesColors[k]}}
  });
});

const layout = {
  width: W, height: H,
  margin: {l: 0, r: 0, t: 0, b: 0},
  paper_bgcolor: '#fff', plot_bgcolor: '#fff',
  font: {family: FONT, size: 17, color: '#000'},
  showlegend: true,
  legend: {
    x: px(971), y: py(1543), xanchor: 'left', yanchor: 'top',
    bgcolor: '#fff', bordercolor: '#000', borderwidth: 1,
    font: {family: FONT, size: 15, color: '#000'},
    tracegroupgap: 0
  },
  annotations: []
};

boxes.forEach((b, i) => {
  const s = i === 0 ? '' : String(i + 1);
  const common = {
    range: [-20, 20], tickmode: 'array', tickvals: tickVals, ticktext: tickText,
    ticks: 'inside', ticklen: 5, tickwidth: 1, tickcolor: '#222',
    mirror: 'allticks', showline: true, linecolor: '#222', linewidth: 1,
    showgrid: true, gridcolor: '#9a9a9a', griddash: '1px,2px', gridwidth: 1,
    zeroline: false, fixedrange: true,
    tickfont: {family: FONT, size: 17, color: '#000'}
  };
  layout['xaxis' + s] = Object.assign({}, common, {
    domain: [px(b.x0), px(b.x1)], anchor: 'y' + s
  });
  layout['yaxis' + s] = Object.assign({}, common, {
    domain: [py(b.y1), py(b.y0)], anchor: 'x' + s
  });
  layout.annotations.push({
    text: months[i], xref: 'paper', yref: 'paper',
    x: px((b.x0 + b.x1) / 2), y: py(b.y0 - 20),
    xanchor: 'center', yanchor: 'middle', showarrow: false,
    font: {family: FONT, size: 17, color: '#000'}
  });
  if (i % 2 === 0) {
    layout.annotations.push({
      text: 'Y-distance, km', xref: 'paper', yref: 'paper',
      x: px(18), y: py((b.y0 + b.y1) / 2), textangle: -90,
      xanchor: 'center', yanchor: 'middle', showarrow: false,
      font: {family: FONT, size: 17, color: '#000'}
    });
  }
  if (i >= 4) {
    layout.annotations.push({
      text: 'X-distance, km', xref: 'paper', yref: 'paper',
      x: px((b.x0 + b.x1) / 2), y: py(1651),
      xanchor: 'center', yanchor: 'middle', showarrow: false,
      font: {family: FONT, size: 17, color: '#000'}
    });
  }
});

Plotly.newPlot('chart', traces, layout, {displayModeBar: false, staticPlot: true});
</script>
</body></html>
